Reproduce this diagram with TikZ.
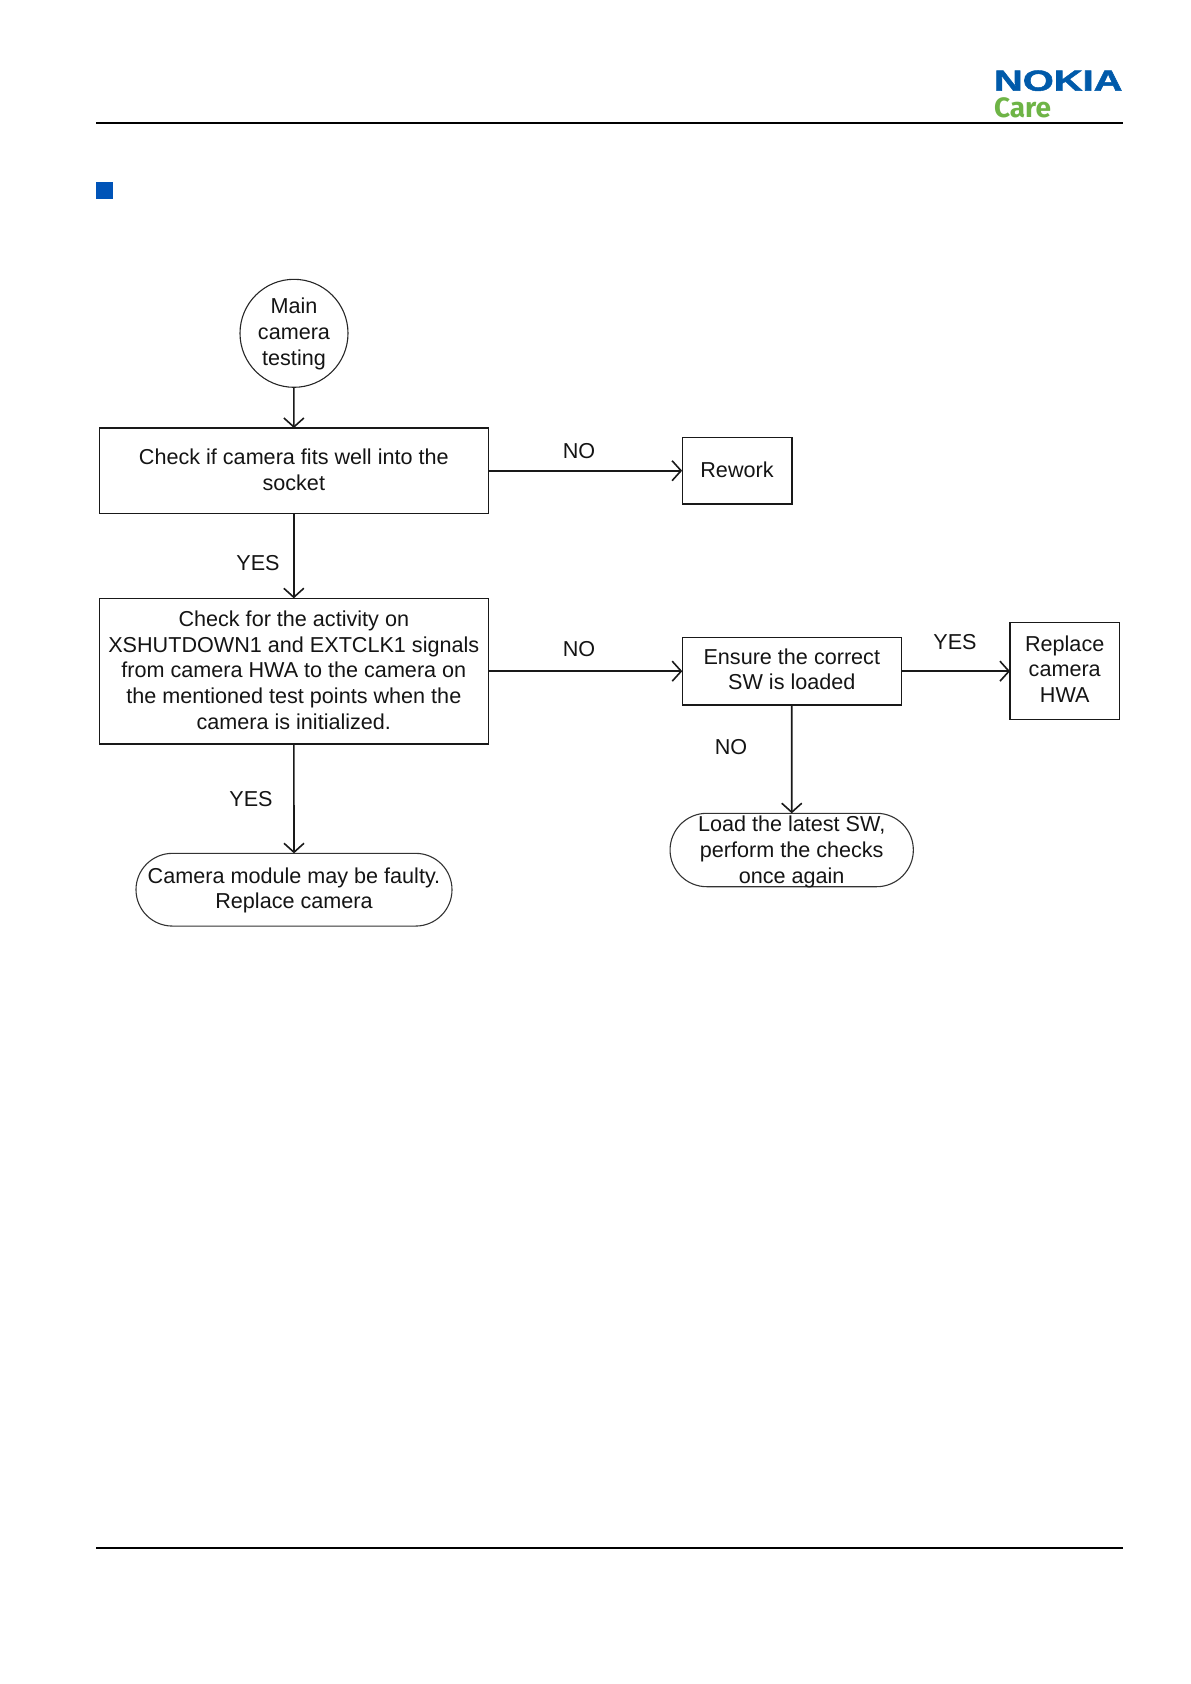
\documentclass[tikz,border=0pt]{standalone}
\usepackage{fontspec}
\setmainfont{Liberation Sans}
\newfontfamily\carefont{Fira Sans}
\newfontfamily\nokiafont[FakeBold=1.6]{Liberation Sans Bold}
\usetikzlibrary{arrows.meta,shapes.misc}
\newcommand{\shifted}[2]{\raisebox{\dimexpr#1-5.4pt\relax}[0pt][0pt]{\begin{tabular}{@{}c@{}}#2\end{tabular}}}
\tikzset{
  x=1pt,y=-1pt,
  every node/.style={font=\fontsize{21.6}{25.7}\selectfont,text=black!92,align=center,inner sep=0pt,outer sep=0pt},
  boxnode/.style={draw=black!90,line width=1.3pt,rectangle},
  termnode/.style={draw=black!80,line width=1.1pt,rounded rectangle},
  link/.style={draw=black!90,line width=1.6pt,-{Straight Barb[length=9pt,width=20pt,line width=1.6pt]}},
  rule/.style={draw=black,line width=1.8pt}
}
\begin{document}
\begin{tikzpicture}
\useasboundingbox (0,0) rectangle (1191,1684);
\coordinate (ruleTL) at (96,122.7);
\coordinate (ruleTR) at (1122.5,122.7);
\coordinate (ruleBL) at (96,1548);
\coordinate (ruleBR) at (1122.5,1548);
\draw[rule] (ruleTL) -- (ruleTR);
\draw[rule] (ruleBL) -- (ruleBR);
\fill[fill={rgb,255:red,0;green,84;blue,184}] (96,182) rectangle (113.3,198.7);
\node[anchor=west,font=\nokiafont\fontsize{29}{29}\selectfont,text={rgb,255:red,0;green,90;blue,170},xscale=1.375] (nokia) at (994,80.7) {NOKIA};
\node[anchor=west,font=\carefont\bfseries\fontsize{28}{28}\selectfont,text={rgb,255:red,110;green,180;blue,70}] (care) at (994,107.5) {Care};

\node[draw=black!85,line width=1.1pt,circle,minimum size=108pt] (start) at (294,333.3) {\shifted{-0.7pt}{Main\\camera\\testing}};
\node[boxnode,minimum width=389pt,minimum height=85.3pt] (check) at (293.8,470.7) {\shifted{-1.1pt}{Check if camera fits well into the\\socket}};
\node[boxnode,minimum width=109.7pt,minimum height=66.7pt] (rework) at (737,470.7) {\shifted{-1.1pt}{Rework}};
\node[boxnode,minimum width=389pt,minimum height=145.7pt] (activity) at (293.8,671.2) {\shifted{-1.3pt}{Check for the activity on\\XSHUTDOWN1 and EXTCLK1 signals\\from camera HWA to the camera on\\the mentioned test points when the\\camera is initialized.}};
\node[boxnode,minimum width=219pt,minimum height=67.7pt] (ensure) at (791.8,671.2) {\shifted{-0.3pt}{Ensure the correct\\SW is loaded}};
\node[boxnode,minimum width=109.3pt,minimum height=97pt] (replace) at (1064.7,671.2) {\shifted{-0.4pt}{Replace\\camera\\HWA}};
\node[termnode,minimum width=316pt,minimum height=72.7pt] (faulty) at (294,889.7) {\shifted{-1pt}{Camera module may be faulty.\\Replace camera}};
\node[termnode,minimum width=243.3pt,minimum height=73.4pt] (load) at (791.7,850) {\shifted{-2.1pt}{Load the latest SW,\\perform the checks\\once again}};

\draw[link] (start) -- (check);
\draw[link] (check) -- (rework);
\draw[link] (check) -- (activity);
\draw[link] (activity) -- (ensure);
\draw[link] (activity) -- (faulty);
\draw[link] (ensure) -- (replace);
\draw[link] (ensure) -- (load);

\node (l1) at (579,451) {NO};
\node (l2) at (258,563) {YES};
\node (l3) at (579,649) {NO};
\node (l4) at (251,799) {YES};
\node (l5) at (955,642) {YES};
\node (l6) at (731,747) {NO};
\end{tikzpicture}
\end{document}
